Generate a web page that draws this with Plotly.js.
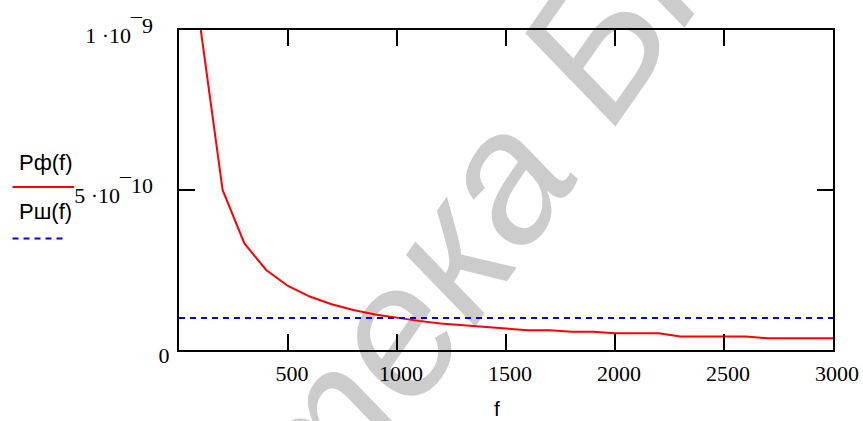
<!DOCTYPE html>
<html>
<head>
<meta charset="utf-8">
<script src="https://cdn.plot.ly/plotly-3.0.1.min.js"></script>
<style>html,body{margin:0;padding:0;background:#fff;}#chart{width:863px;height:421px;}</style>
</head>
<body>
<div id="chart"></div>
<script>
// ---- data ----
var f = [0, 100, 200, 300, 400, 500, 600, 700, 800, 900, 1000,
         1100, 1200, 1300, 1400, 1500, 1600, 1700, 1800, 1900, 2000,
         2100, 2200, 2300, 2400, 2500, 2600, 2700, 2800, 2900, 3000];
var Pf = [null, 1.0e-9, 5.0e-10, 3.33e-10, 2.5e-10, 2.0e-10, 1.67e-10, 1.43e-10, 1.25e-10, 1.11e-10, 1.0e-10,
          9.1e-11, 8.3e-11, 7.7e-11, 7.3e-11, 6.7e-11, 6.2e-11, 6.2e-11, 5.7e-11, 5.7e-11, 5.2e-11,
          5.2e-11, 5.2e-11, 4.2e-11, 4.2e-11, 4.2e-11, 4.2e-11, 3.7e-11, 3.7e-11, 3.7e-11, 3.7e-11];
var Pw = [1e-10, 1e-10, 1e-10, 1e-10, 1e-10, 1e-10, 1e-10, 1e-10, 1e-10, 1e-10, 1e-10,
          1e-10, 1e-10, 1e-10, 1e-10, 1e-10, 1e-10, 1e-10, 1e-10, 1e-10, 1e-10,
          1e-10, 1e-10, 1e-10, 1e-10, 1e-10, 1e-10, 1e-10, 1e-10, 1e-10, 1e-10];
var xTickVals = [500, 1000, 1500, 2000, 2500, 3000];
var xTickText = ['500', '1000', '1500', '2000', '2500', '3000'];
var yTickVals = [0, 5e-10, 1e-9];
var yTickText = ['0',
  '5 ·10<sup><span style="font-size:22px">¯10</span></sup>&nbsp;&nbsp;&nbsp;',
  '1 ·10<sup><span style="font-size:22px">¯9</span></sup>&nbsp;&nbsp;&nbsp;'];
var seriesNames = ['Рф(f)', 'Рш(f)'];
var xTitle = 'f';
var watermark = 'Библиотека БГУИР';

// ---- layout helpers (pixel -> paper) ----
var W = 863, H = 421, L = 179, R = 30, T = 30, B = 71;
var PW = W - L - R, PH = H - T - B;
function px(x) { return (x - L) / PW; }
function py(y) { return (H - B - y) / PH; }

var serif = 'Liberation Serif, Times New Roman, serif';
var sans = 'Liberation Sans, Arial, sans-serif';

var traces = [
  {x: f, y: Pf, type: 'scatter', mode: 'lines', name: seriesNames[0],
   line: {color: '#ff0000', width: 2}, connectgaps: false, hoverinfo: 'skip'},
  {x: f, y: Pw, type: 'scatter', mode: 'lines', name: seriesNames[1],
   line: {color: '#0000ff', width: 2, dash: '6px,5px'}, hoverinfo: 'skip'}
];

var angDeg = 55;
var ang = angDeg * Math.PI / 180;
var cx = 391, cy = 304, half = 100;

var layout = {
  width: W, height: H,
  margin: {l: L, r: R, t: T, b: B, pad: 0},
  paper_bgcolor: '#ffffff', plot_bgcolor: 'rgba(0,0,0,0)',
  showlegend: false,
  xaxis: {
    range: [0, 3000], showgrid: false, zeroline: false,
    showline: true, linecolor: '#000', linewidth: 2, mirror: 'ticks',
    ticks: 'inside', ticklen: 16, tickwidth: 2, tickcolor: '#000',
    tickmode: 'array', tickvals: xTickVals, ticktext: xTickText,
    tickfont: {family: serif, size: 22, color: '#000'},
    ticklabelstandoff: 3, ticklabelshift: 4
  },
  yaxis: {
    range: [0, 1e-9], showgrid: false, zeroline: false,
    showline: true, linecolor: '#000', linewidth: 2, mirror: 'ticks',
    ticks: 'inside', ticklen: 16, tickwidth: 2, tickcolor: '#000',
    tickmode: 'array', tickvals: yTickVals, ticktext: yTickText,
    tickfont: {family: serif, size: 22, color: '#000'},
    ticklabelstandoff: 3, ticklabelshift: 5
  },
  shapes: [
    {type: 'line', xref: 'paper', yref: 'paper', layer: 'below',
     x0: px(cx - half * Math.cos(ang)), y0: py(cy + half * Math.sin(ang)),
     x1: px(cx + half * Math.cos(ang)), y1: py(cy - half * Math.sin(ang)),
     line: {width: 0, color: 'rgba(0,0,0,0)'},
     label: {text: watermark, textangle: -angDeg, textposition: 'middle', yanchor: 'middle',
             font: {family: sans, size: 185, color: '#cccccc', style: 'italic'}}},
    {type: 'line', xref: 'paper', yref: 'paper', x0: px(12.5), x1: px(74), y0: py(187), y1: py(187),
     line: {color: '#ff0000', width: 2}},
    {type: 'line', xref: 'paper', yref: 'paper', x0: px(12.5), x1: px(67), y0: py(238.5), y1: py(238.5),
     line: {color: '#0000ff', width: 2, dash: '6px,5px'}}
  ],
  annotations: [
    {text: seriesNames[0], xref: 'paper', yref: 'paper', x: px(17), y: py(162.5),
     xanchor: 'left', yanchor: 'middle', showarrow: false,
     font: {family: sans, size: 22, color: '#000'}},
    {text: seriesNames[1], xref: 'paper', yref: 'paper', x: px(17), y: py(211.5),
     xanchor: 'left', yanchor: 'middle', showarrow: false,
     font: {family: sans, size: 22, color: '#000'}},
    {text: xTitle, xref: 'paper', yref: 'paper', x: px(497), y: py(408),
     xanchor: 'center', yanchor: 'middle', showarrow: false,
     font: {family: sans, size: 21, color: '#000'}}
  ]
};

Plotly.newPlot('chart', traces, layout, {staticPlot: true, displayModeBar: false});
</script>
</body>
</html>
